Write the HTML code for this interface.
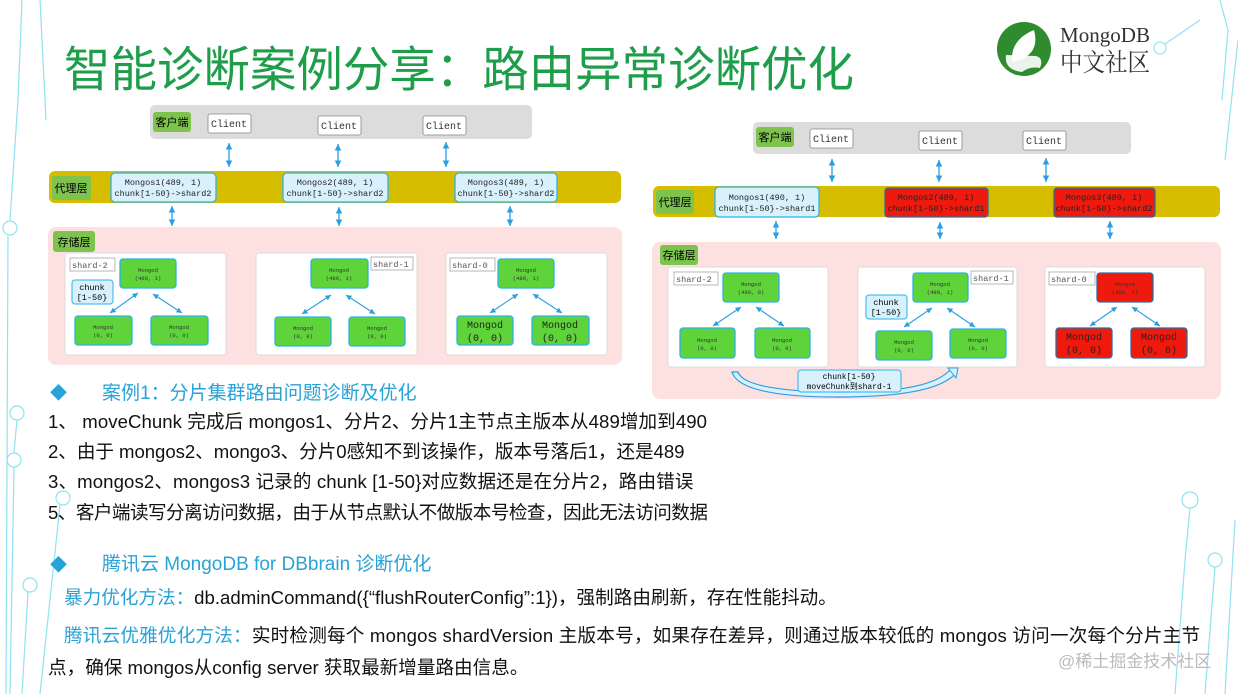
<!DOCTYPE html>
<html><head><meta charset="utf-8"><style>
body{margin:0;width:1238px;height:694px;background:#fff;overflow:hidden;position:relative;font-family:"Liberation Sans","Noto Sans CJK SC",sans-serif}
.t{position:absolute;white-space:nowrap;color:#111;font-size:18.6px;line-height:22px}
.b{color:#27a3d6}
</style></head><body>
<svg width="1238" height="694" style="position:absolute;left:0;top:0" xmlns="http://www.w3.org/2000/svg">
<defs>
<marker id="a" markerWidth="6" markerHeight="6" refX="5" refY="3" orient="auto-start-reverse"><path d="M0,0.5 L5,3 L0,5.5 z" fill="#2a9fe0"/></marker>
</defs>
<g stroke="#8fe3f0" stroke-width="1.2" fill="none">
<path d="M22,0 L18,100 L10,220"/><circle cx="10" cy="228" r="7"/>
<path d="M8,236 L6,694"/>
<path d="M40,0 L46,120"/>
<circle cx="17" cy="413" r="7"/><path d="M17,420 L14,452"/><circle cx="14" cy="460" r="7"/><path d="M14,467 L10,694"/>
<circle cx="63" cy="498" r="7"/><path d="M60,505 L40,694"/>
<circle cx="30" cy="585" r="7"/><path d="M28,592 L22,694"/>
<path d="M1220,0 L1228,30 L1222,100"/><circle cx="1160" cy="48" r="6"/><path d="M1165,44 L1200,20"/>
<path d="M1238,40 L1225,160"/>
<circle cx="1190" cy="500" r="8"/><path d="M1190,508 L1185,560 L1175,694"/>
<circle cx="1215" cy="560" r="7"/><path d="M1215,567 L1205,694"/>
<path d="M1235,520 L1225,694"/>
</g>
<text x="64" y="86" font-size="48" fill="#1e9e4a" textLength="790" lengthAdjust="spacingAndGlyphs" font-family="Liberation Sans,Noto Sans CJK SC,sans-serif">智能诊断案例分享：路由异常诊断优化</text>
<circle cx="1024" cy="49" r="27" fill="#2e8b2e"/>
<path d="M1012,62 Q1010,40 1034,30 Q1040,52 1020,60 Z" fill="#fff"/>
<path d="M1006,55 Q1004,70 1022,72 Q1030,66 1040,68 Q1044,58 1036,56 Z" fill="#fff" opacity="0.9"/>
<text x="1060" y="42" font-size="21" textLength="90" lengthAdjust="spacingAndGlyphs" font-family="Liberation Serif,serif" fill="#333">MongoDB</text>
<text x="1060" y="71" font-size="25" textLength="90" lengthAdjust="spacingAndGlyphs" font-family="Liberation Serif,Noto Serif CJK SC,serif" fill="#333">中文社区</text>

<g font-family="Liberation Mono,monospace">
<rect x="150" y="105" width="382" height="34" rx="5" fill="#dcdcdc"/>
<rect x="153" y="112" width="38" height="20" rx="3" fill="#7dc34e"/>
<text x="172" y="126" font-size="11" text-anchor="middle" font-family="Noto Sans CJK SC,sans-serif">客户端</text>
<g fill="#fff" stroke="#888" stroke-width="0.8"><rect x="208" y="114" width="43" height="19" rx="2"/><rect x="318" y="116" width="43" height="19" rx="2"/><rect x="423" y="116" width="43" height="19" rx="2"/></g>
<g font-size="10" text-anchor="middle" fill="#333"><text x="229" y="127">Client</text><text x="339" y="129">Client</text><text x="444" y="129">Client</text></g>
<g stroke="#2a9fe0" stroke-width="1.3" marker-start="url(#a)" marker-end="url(#a)">
<line x1="229" y1="143" x2="229" y2="167"/><line x1="338" y1="144" x2="338" y2="167"/><line x1="446" y1="142" x2="446" y2="167"/>
<line x1="172" y1="206" x2="172" y2="226"/><line x1="339" y1="207" x2="339" y2="226"/><line x1="510" y1="206" x2="510" y2="226"/>
</g>
<rect x="49" y="171" width="572" height="32" rx="6" fill="#d6bd00"/>
<rect x="52" y="176" width="39" height="24" rx="3" fill="#7dc34e"/>
<text x="71" y="192" font-size="11" text-anchor="middle" font-family="Noto Sans CJK SC,sans-serif">代理层</text>
<g fill="#d8f1fc" stroke="#2ab4e8" stroke-width="1.3"><rect x="111" y="173" width="105" height="29" rx="4"/><rect x="283" y="173" width="105" height="29" rx="4"/><rect x="455" y="173" width="102" height="29" rx="4"/></g>
<g font-size="8.5" text-anchor="middle" fill="#222">
<text x="163" y="185">Mongos1(489, 1)</text><text x="163" y="196">chunk[1-50}-&gt;shard2</text>
<text x="335" y="185">Mongos2(489, 1)</text><text x="335" y="196">chunk[1-50}-&gt;shard2</text>
<text x="506" y="185">Mongos3(489, 1)</text><text x="506" y="196">chunk[1-50}-&gt;shard2</text>
</g>
<rect x="48" y="227" width="574" height="138" rx="8" fill="#fde0e0"/>
<rect x="53" y="231" width="42" height="21" rx="3" fill="#7dc34e"/>
<text x="74" y="246" font-size="11" text-anchor="middle" font-family="Noto Sans CJK SC,sans-serif">存储层</text>
<g fill="#fff" stroke="#ddd"><rect x="65" y="253" width="161" height="102" rx="3"/><rect x="256" y="253" width="161" height="102" rx="3"/><rect x="446" y="253" width="161" height="102" rx="3"/></g>
<g fill="#fff" stroke="#999" stroke-width="0.7"><rect x="70" y="258" width="45" height="13"/><rect x="371" y="257" width="42" height="13"/><rect x="450" y="258" width="45" height="13"/></g>
<g font-size="8.5" fill="#555"><text x="72" y="268">shard-2</text><text x="373" y="267">shard-1</text><text x="452" y="268">shard-0</text></g>
<rect x="72" y="280" width="41" height="24" rx="3" fill="#d8f1fc" stroke="#2ab4e8"/>
<text x="92" y="290" font-size="8.5" text-anchor="middle">chunk</text><text x="92" y="300" font-size="8.5" text-anchor="middle">[1-50}</text>
<g fill="#5fd33a" stroke="#2ab4e8" stroke-width="1.3">
<rect x="120" y="259" width="56" height="29" rx="3"/><rect x="75" y="316" width="57" height="29" rx="3"/><rect x="151" y="316" width="57" height="29" rx="3"/>
<rect x="311" y="259" width="57" height="29" rx="3"/><rect x="275" y="317" width="56" height="29" rx="3"/><rect x="349" y="317" width="56" height="29" rx="3"/>
<rect x="498" y="259" width="56" height="29" rx="3"/><rect x="457" y="316" width="56" height="29" rx="3"/><rect x="532" y="316" width="57" height="29" rx="3"/>
</g>
<g font-size="5.5" text-anchor="middle" fill="#333">
<text x="148" y="272">Mongod</text><text x="148" y="280">(489, 1)</text>
<text x="103" y="329">Mongod</text><text x="103" y="337">(0, 0)</text>
<text x="179" y="329">Mongod</text><text x="179" y="337">(0, 0)</text>
<text x="339" y="272">Mongod</text><text x="339" y="280">(489, 1)</text>
<text x="303" y="330">Mongod</text><text x="303" y="338">(0, 0)</text>
<text x="377" y="330">Mongod</text><text x="377" y="338">(0, 0)</text>
<text x="526" y="272">Mongod</text><text x="526" y="280">(489, 1)</text>
</g>
<g font-size="10" text-anchor="middle" fill="#222"><text x="485" y="328">Mongod</text><text x="485" y="341">(0, 0)</text><text x="560" y="328">Mongod</text><text x="560" y="341">(0, 0)</text></g>
<g stroke="#2a9fe0" stroke-width="1.1" marker-start="url(#a)" marker-end="url(#a)">
<line x1="138" y1="293" x2="110" y2="313"/><line x1="153" y1="294" x2="182" y2="313"/>
<line x1="331" y1="295" x2="302" y2="314"/><line x1="346" y1="295" x2="375" y2="314"/>
<line x1="518" y1="294" x2="490" y2="313"/><line x1="533" y1="294" x2="562" y2="313"/>
</g>

<rect x="753" y="122" width="378" height="32" rx="5" fill="#dcdcdc"/>
<rect x="756" y="127" width="38" height="20" rx="3" fill="#7dc34e"/>
<text x="775" y="141" font-size="11" text-anchor="middle" font-family="Noto Sans CJK SC,sans-serif">客户端</text>
<g fill="#fff" stroke="#888" stroke-width="0.8"><rect x="810" y="129" width="43" height="19" rx="2"/><rect x="919" y="131" width="43" height="19" rx="2"/><rect x="1023" y="131" width="43" height="19" rx="2"/></g>
<g font-size="10" text-anchor="middle" fill="#333"><text x="831" y="142">Client</text><text x="940" y="144">Client</text><text x="1044" y="144">Client</text></g>
<g stroke="#2a9fe0" stroke-width="1.3" marker-start="url(#a)" marker-end="url(#a)">
<line x1="832" y1="159" x2="832" y2="182"/><line x1="939" y1="160" x2="939" y2="182"/><line x1="1046" y1="158" x2="1046" y2="182"/>
<line x1="776" y1="221" x2="776" y2="239"/><line x1="940" y1="222" x2="940" y2="239"/><line x1="1110" y1="221" x2="1110" y2="239"/>
</g>
<rect x="653" y="186" width="567" height="31" rx="6" fill="#d6bd00"/>
<rect x="656" y="190" width="38" height="24" rx="3" fill="#7dc34e"/>
<text x="675" y="206" font-size="11" text-anchor="middle" font-family="Noto Sans CJK SC,sans-serif">代理层</text>
<rect x="715" y="187" width="104" height="30" rx="4" fill="#d8f1fc" stroke="#2ab4e8" stroke-width="1.3"/>
<g fill="#f0190e" stroke="#2a6fa0" stroke-width="1.3"><rect x="885" y="188" width="103" height="29" rx="3"/><rect x="1054" y="188" width="101" height="29" rx="3"/></g>
<g font-size="8.5" text-anchor="middle" fill="#222">
<text x="767" y="200">Mongos1(490, 1)</text><text x="767" y="211">chunk[1-50}-&gt;shard1</text>
<text x="936" y="200">Mongos2(489, 1)</text><text x="936" y="211">chunk[1-50}-&gt;shard1</text>
<text x="1104" y="200">Mongos3(489, 1)</text><text x="1104" y="211">chunk[1-50}-&gt;shard2</text>
</g>
<rect x="652" y="242" width="569" height="157" rx="8" fill="#fde0e0"/>
<rect x="660" y="245" width="38" height="20" rx="3" fill="#7dc34e"/>
<text x="679" y="259" font-size="11" text-anchor="middle" font-family="Noto Sans CJK SC,sans-serif">存储层</text>
<g fill="#fff" stroke="#ddd"><rect x="668" y="267" width="160" height="100" rx="3"/><rect x="858" y="267" width="159" height="100" rx="3"/><rect x="1045" y="267" width="160" height="100" rx="3"/></g>
<g fill="#fff" stroke="#999" stroke-width="0.7"><rect x="674" y="272" width="44" height="13"/><rect x="971" y="271" width="42" height="13"/><rect x="1049" y="272" width="46" height="13"/></g>
<g font-size="8.5" fill="#555"><text x="676" y="282">shard-2</text><text x="973" y="281">shard-1</text><text x="1051" y="282">shard-0</text></g>
<rect x="866" y="295" width="41" height="24" rx="3" fill="#d8f1fc" stroke="#2ab4e8"/>
<text x="886" y="305" font-size="8.5" text-anchor="middle">chunk</text><text x="886" y="315" font-size="8.5" text-anchor="middle">[1-50}</text>
<g fill="#5fd33a" stroke="#2ab4e8" stroke-width="1.3">
<rect x="723" y="273" width="56" height="29" rx="3"/><rect x="680" y="328" width="55" height="30" rx="3"/><rect x="755" y="328" width="55" height="30" rx="3"/>
<rect x="913" y="273" width="55" height="29" rx="3"/><rect x="876" y="331" width="56" height="29" rx="3"/><rect x="950" y="329" width="56" height="29" rx="3"/>
</g>
<g fill="#f0190e" stroke="#2a6fa0" stroke-width="1.3">
<rect x="1097" y="273" width="56" height="29" rx="3"/><rect x="1056" y="328" width="56" height="30" rx="3"/><rect x="1131" y="328" width="56" height="30" rx="3"/>
</g>
<g font-size="5.5" text-anchor="middle" fill="#333">
<text x="751" y="286">Mongod</text><text x="751" y="294">(490, 0)</text>
<text x="707" y="342">Mongod</text><text x="707" y="350">(0, 0)</text>
<text x="782" y="342">Mongod</text><text x="782" y="350">(0, 0)</text>
<text x="940" y="286">Mongod</text><text x="940" y="294">(490, 1)</text>
<text x="904" y="344">Mongod</text><text x="904" y="352">(0, 0)</text>
<text x="978" y="342">Mongod</text><text x="978" y="350">(0, 0)</text>
<text x="1125" y="286">Mongod</text><text x="1125" y="294">(489, 1)</text>
</g>
<g font-size="10" text-anchor="middle" fill="#222"><text x="1084" y="340">Mongod</text><text x="1084" y="353">(0, 0)</text><text x="1159" y="340">Mongod</text><text x="1159" y="353">(0, 0)</text></g>
<g stroke="#2a9fe0" stroke-width="1.1" marker-start="url(#a)" marker-end="url(#a)">
<line x1="741" y1="307" x2="713" y2="326"/><line x1="756" y1="307" x2="784" y2="326"/>
<line x1="932" y1="308" x2="904" y2="327"/><line x1="947" y1="308" x2="975" y2="327"/>
<line x1="1117" y1="307" x2="1090" y2="326"/><line x1="1132" y1="307" x2="1160" y2="326"/>
</g>
<path d="M732,372 Q740,398 846,397 Q935,396 955,374 L950,370 Q930,392 846,392 Q745,392 738,372 Z" fill="#d8f1fc" stroke="#2a9fe0" stroke-width="1.2"/>
<path d="M958,368 L948,368 L956,378 Z" fill="#d8f1fc" stroke="#2a9fe0"/>
<rect x="798" y="370" width="103" height="22" rx="3" fill="#d8f1fc" stroke="#2ab4e8"/>
<text x="849" y="379" font-size="8" text-anchor="middle">chunk[1-50}</text>
<text x="849" y="389" font-size="8" text-anchor="middle">moveChunk到shard-1</text>
</g>
</svg>

<div class="t b" style="left:50px;top:383px;font-size:17px">◆</div>
<div class="t b" style="left:102px;top:382px;font-size:19px;line-height:24px">案例1：分片集群路由问题诊断及优化</div>
<div class="t" style="left:48px;top:411px;letter-spacing:0.06px">1、 moveChunk 完成后 mongos1、分片2、分片1主节点主版本从489增加到490</div>
<div class="t" style="left:48px;top:441px;letter-spacing:-0.05px">2、由于 mongos2、mongo3、分片0感知不到该操作，版本号落后1，还是489</div>
<div class="t" style="left:48px;top:471px;letter-spacing:0.1px">3、mongos2、mongos3 记录的 chunk [1-50}对应数据还是在分片2，路由错误</div>
<div class="t" style="left:48px;top:502px;letter-spacing:-0.55px">5、客户端读写分离访问数据，由于从节点默认不做版本号检查，因此无法访问数据</div>
<div class="t b" style="left:50px;top:555px;font-size:17px">◆</div>
<div class="t b" style="left:102px;top:553px;font-size:19px;line-height:24px">腾讯云 MongoDB for DBbrain 诊断优化</div>
<div class="t" style="left:64px;top:587px"><span class="b">暴力优化方法：</span>db.adminCommand({“flushRouterConfig”:1})，强制路由刷新，存在性能抖动。</div>
<div class="t" style="left:64px;top:625px;letter-spacing:0.19px"><span class="b">腾讯云优雅优化方法：</span>实时检测每个 mongos shardVersion 主版本号，如果存在差异，则通过版本较低的 mongos 访问一次每个分片主节</div>
<div class="t" style="left:48px;top:657px">点，确保 mongos从config server 获取最新增量路由信息。</div>
<div class="t" style="left:1058px;top:651px;color:#bbb;font-size:17px">@稀土掘金技术社区</div>
</body></html>
